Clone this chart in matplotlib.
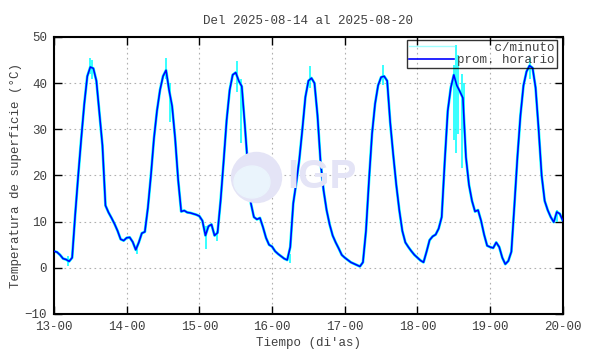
import numpy as np
import pandas as pd
import matplotlib
matplotlib.use("Agg")
import matplotlib.pyplot as plt
import matplotlib.dates as mdates
from matplotlib.patches import Ellipse

# promedio horario, un dia por lista (00h..23h)
dia13 = [3.6, 3.4, 2.8, 2.0, 1.8, 1.4, 2.2, 11.5, 20.0, 28.0, 35.5, 41.5,
         43.5, 43.2, 40.5, 33.5, 26.5, 13.5, 12.0, 10.8, 9.5, 8.0, 6.2, 5.9]
dia14 = [6.5, 6.6, 5.6, 3.9, 5.5, 7.5, 7.8, 13.0, 20.0, 28.0, 34.0, 38.5,
         41.5, 42.8, 38.5, 35.0, 28.0, 19.0, 12.2, 12.4, 12.0, 11.9, 11.7, 11.5]
dia15 = [11.2, 10.2, 7.0, 9.0, 9.4, 7.0, 7.6, 14.5, 23.0, 32.0, 38.5, 41.8,
         42.3, 40.5, 39.3, 31.0, 22.0, 14.0, 11.0, 10.5, 10.8, 8.8, 6.5, 5.0]
dia16 = [4.6, 3.6, 3.0, 2.5, 2.0, 1.7, 4.5, 14.0, 18.5, 23.5, 30.0, 37.0,
         40.5, 41.1, 40.0, 33.0, 23.0, 16.8, 12.5, 9.4, 7.0, 5.5, 4.2, 2.8]
dia17 = [2.2, 1.7, 1.2, 0.9, 0.6, 0.3, 1.2, 8.0, 19.0, 29.0, 35.5, 39.5,
         41.3, 41.5, 40.5, 31.5, 24.5, 18.0, 12.5, 8.0, 5.5, 4.5, 3.6, 2.8]
dia18 = [2.2, 1.6, 1.2, 3.5, 6.0, 6.8, 7.2, 8.5, 11.0, 23.0, 34.0, 39.0,
         41.8, 39.5, 38.2, 36.8, 24.0, 18.0, 14.5, 12.2, 12.5, 10.2, 7.2, 4.8]
dia19 = [4.5, 4.3, 5.5, 4.5, 2.2, 0.8, 1.5, 3.5, 13.5, 24.0, 33.0, 39.5,
         42.5, 43.8, 43.3, 39.0, 30.0, 20.0, 14.5, 12.5, 11.0, 9.9, 12.1, 11.7]
ultimo = [10.2]  # 20-00

# picos de los datos por minuto (hora, minimo, maximo)
pico_t = ["2025-08-13 00:10", "2025-08-13 04:30", "2025-08-13 12:00", "2025-08-13 12:40",
          "2025-08-14 03:30", "2025-08-14 12:50", "2025-08-14 14:20",
          "2025-08-15 02:10", "2025-08-15 05:50", "2025-08-15 12:20", "2025-08-15 13:40",
          "2025-08-16 06:00", "2025-08-16 12:30", "2025-08-17 12:40",
          "2025-08-18 12:05", "2025-08-18 12:40", "2025-08-18 13:20",
          "2025-08-18 14:35", "2025-08-18 15:25",
          "2025-08-19 13:00", "2025-08-19 22:00"]
pico_lo = [2.5, 0.5, 42.0, 41.0, 3.0, 41.0, 31.5, 4.0, 5.8, 38.0, 27.0,
           1.0, 39.0, 39.5, 27.7, 24.8, 29.0, 21.6, 30.0, 41.0, 10.0]
pico_hi = [4.5, 2.5, 45.5, 45.0, 4.5, 45.5, 40.0, 9.0, 8.0, 44.8, 41.0,
           3.0, 43.8, 44.0, 44.0, 48.2, 46.0, 42.0, 40.0, 45.5, 12.5]

temp = dia13 + dia14 + dia15 + dia16 + dia17 + dia18 + dia19 + ultimo
tiempo = pd.date_range("2025-08-13 00:00", periods=len(temp), freq="h")

mono = "Liberation Mono"
gris = "#404040"

fig = plt.figure(figsize=(5.9, 3.54), dpi=100)
ax = fig.add_axes([0.0915, 0.113, 0.8625, 0.7825])

# marca de agua
fig.patches.append(Ellipse((256.5 / 590, 1 - 177.5 / 354), 50 / 590, 50 / 354,
                           transform=fig.transFigure, color="#e4e4f6", zorder=0.5))
fig.patches.append(Ellipse((252 / 590, 1 - 182 / 354), 36 / 590, 32 / 354,
                           transform=fig.transFigure, color="#eaf4fc", zorder=0.6))
fig.text(322 / 590, 1 - 177 / 354, "IGP", family="Liberation Sans", weight="bold",
         fontsize=29, color="#e4e4f6", ha="center", va="center", zorder=0.5)
ax.patch.set_alpha(0)

ax.plot(tiempo, temp, color="#00ffff", lw=2.0, zorder=2)
ax.vlines(pd.to_datetime(pico_t), pico_lo, pico_hi, color="#00ffff", lw=1.1, zorder=2)
ax.plot(tiempo, temp, color="#0000ff", lw=1.15, zorder=3)

ax.plot([], [], color="#a0ffff", lw=1, label="     c/minuto")
ax.plot([], [], color="#0000ff", lw=1.2, label="prom. horario")

ax.set_xlim(pd.Timestamp("2025-08-13"), pd.Timestamp("2025-08-20"))
ax.set_ylim(-10, 50)
ax.set_yticks(range(-10, 51, 10))
ax.xaxis.set_major_locator(mdates.DayLocator())
ax.xaxis.set_major_formatter(mdates.DateFormatter("%d-%H"))

ax.grid(True, color="#b0b0b0", ls=(0, (1.5, 3)), lw=0.8)
ax.tick_params(direction="in", length=6, width=1, top=True, right=True,
               labelsize=9, labelcolor=gris, pad=5)
for lab in ax.get_xticklabels() + ax.get_yticklabels():
    lab.set_family(mono)
for s in ax.spines.values():
    s.set_linewidth(1.5)
    s.set_color("black")

ax.set_title("Del 2025-08-14 al 2025-08-20", family=mono, fontsize=9, color=gris, pad=9)
ax.set_xlabel("Tiempo (di'as)", family=mono, fontsize=9, color=gris, labelpad=3)
ax.set_ylabel("Temperatura de superficie (°C)", family=mono, fontsize=9, color=gris, labelpad=2)

leg = ax.legend(loc="upper right", bbox_to_anchor=(0.988, 0.99), prop={"family": mono, "size": 9},
                frameon=True, fancybox=False, edgecolor="black",
                handlelength=3.6, handletextpad=0.3, labelspacing=0.05,
                borderpad=0.15, borderaxespad=0)
leg.get_frame().set_facecolor("none")
leg.get_frame().set_linewidth(1)
for t in leg.get_texts():
    t.set_color(gris)

fig.savefig("out.png", dpi=100)
